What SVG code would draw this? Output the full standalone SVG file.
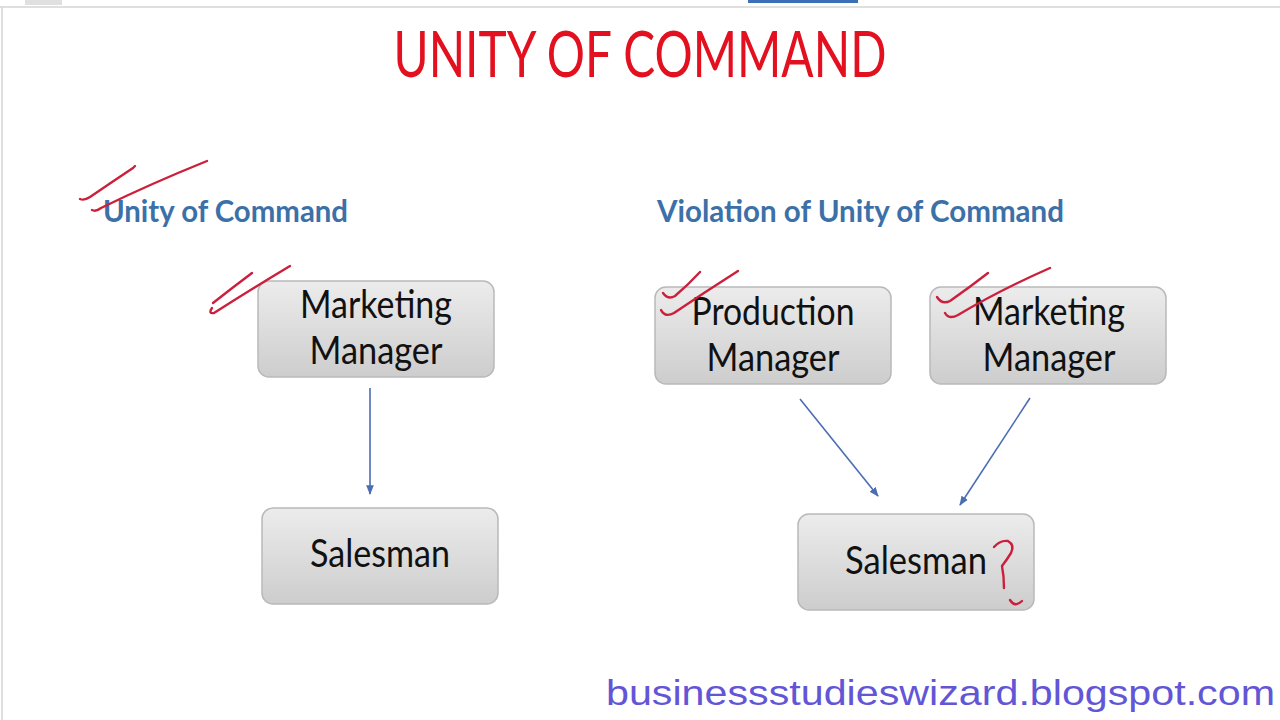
<svg xmlns="http://www.w3.org/2000/svg" width="1280" height="720" viewBox="0 0 1280 720">
<defs>
<linearGradient id="boxg" x1="0" y1="0" x2="0" y2="1">
<stop offset="0" stop-color="#ececec"/>
<stop offset="1" stop-color="#cdcdcd"/>
</linearGradient>
<marker id="arr" viewBox="0 0 10 10" refX="9" refY="5" markerWidth="6" markerHeight="6" orient="auto" markerUnits="strokeWidth">
<path d="M0,1 L10,5 L0,9 z" fill="#4a6db3"/>
</marker>
<style>
.box{fill:url(#boxg);stroke:#b9b9b9;stroke-width:1.5}
.lbl{font-family:Lato,"Open Sans","Liberation Sans",sans-serif;font-size:38px;fill:#111}
.sub{font-family:Lato,"Open Sans","Liberation Sans",sans-serif;font-size:31px;font-weight:bold;fill:#3c70a8}
.conn{stroke:#4a6db3;stroke-width:1.6;fill:none;marker-end:url(#arr)}
.pen{stroke:#cc1f3c;stroke-width:2.4;fill:none;stroke-linecap:round;stroke-linejoin:round}
</style>
</defs>
<rect width="1280" height="720" fill="#ffffff"/>
<g id="frame">
<line x1="0" y1="7" x2="1280" y2="7" stroke="#d4d4d4" stroke-width="1.5"/>
<line x1="2" y1="7" x2="2" y2="720" stroke="#d4d4d4" stroke-width="1.5"/>
<rect x="25" y="0" width="37" height="5" fill="#e0e0e0"/>
<rect x="748" y="0" width="110" height="3" fill="#3b6fb6"/>
</g>
<g id="title">
<text x="640" y="77" text-anchor="middle" font-family="Lato,'Open Sans','Liberation Sans',sans-serif" font-size="63" fill="#e3101f" textLength="493" lengthAdjust="spacingAndGlyphs">UNITY OF COMMAND</text>
</g>
<g id="subtitles">
<text class="sub" x="103" y="222" textLength="245" lengthAdjust="spacingAndGlyphs">Unity of Command</text>
<text class="sub" x="657" y="222" textLength="407" lengthAdjust="spacingAndGlyphs">Violation of Unity of Command</text>
</g>
<g id="connectors">
<line class="conn" x1="370" y1="388" x2="370" y2="494"/>
<line class="conn" x1="800" y1="399" x2="878" y2="496"/>
<line class="conn" x1="1030" y1="398" x2="960" y2="505"/>
</g>
<g id="node-marketing-left">
<rect class="box" x="258" y="281" width="236" height="96" rx="11"/>
<text class="lbl" x="376" y="318" text-anchor="middle" textLength="152" lengthAdjust="spacingAndGlyphs">Marketing</text>
<text class="lbl" x="376" y="364" text-anchor="middle" textLength="133" lengthAdjust="spacingAndGlyphs">Manager</text>
</g>
<g id="node-salesman-left">
<rect class="box" x="262" y="508" width="236" height="96" rx="11"/>
<text class="lbl" x="380" y="567" text-anchor="middle" textLength="140" lengthAdjust="spacingAndGlyphs">Salesman</text>
</g>
<g id="node-production">
<rect class="box" x="655" y="287" width="236" height="97" rx="11"/>
<text class="lbl" x="773" y="325" text-anchor="middle" textLength="163" lengthAdjust="spacingAndGlyphs">Production</text>
<text class="lbl" x="773" y="371" text-anchor="middle" textLength="133" lengthAdjust="spacingAndGlyphs">Manager</text>
</g>
<g id="node-marketing-right">
<rect class="box" x="930" y="287" width="236" height="97" rx="11"/>
<text class="lbl" x="1049" y="325" text-anchor="middle" textLength="152" lengthAdjust="spacingAndGlyphs">Marketing</text>
<text class="lbl" x="1049" y="371" text-anchor="middle" textLength="133" lengthAdjust="spacingAndGlyphs">Manager</text>
</g>
<g id="node-salesman-right">
<rect class="box" x="798" y="514" width="236" height="96" rx="11"/>
<text class="lbl" x="916" y="574" text-anchor="middle" textLength="142" lengthAdjust="spacingAndGlyphs">Salesman</text>
</g>
<g id="footer">
<text x="606" y="705" font-family="'Liberation Sans',Arial,sans-serif" font-size="35" fill="#6256d6" textLength="669" lengthAdjust="spacingAndGlyphs">businessstudieswizard.blogspot.com</text>
</g>
<g id="pen-marks">
<path class="pen" d="M80,199 Q84,201 90,197 Q112,182 133,168 L135,166"/>
<path class="pen" d="M92,210 Q96,212 101,208 Q150,184 207,161"/>
<path class="pen" d="M213,303 Q232,288 252,273"/>
<path class="pen" d="M212,308 Q208,314 214,313 Q250,290 290,266"/>
<path class="pen" d="M663,293 Q668,300 675,296 Q688,285 700,272"/>
<path class="pen" d="M661,310 Q665,318 674,313 Q705,292 738,271"/>
<path class="pen" d="M937,297 Q942,305 950,301 Q970,287 988,273"/>
<path class="pen" d="M945,313 Q949,320 958,315 Q1000,290 1050,268"/>
<path class="pen" d="M994,547 Q1000,540 1008,541 Q1015,545 1011,553 Q1006,561 1002,566 Q1004,576 1004,588"/>
<path class="pen" d="M1010,600 Q1015,608 1022,601"/>
</g>
</svg>
